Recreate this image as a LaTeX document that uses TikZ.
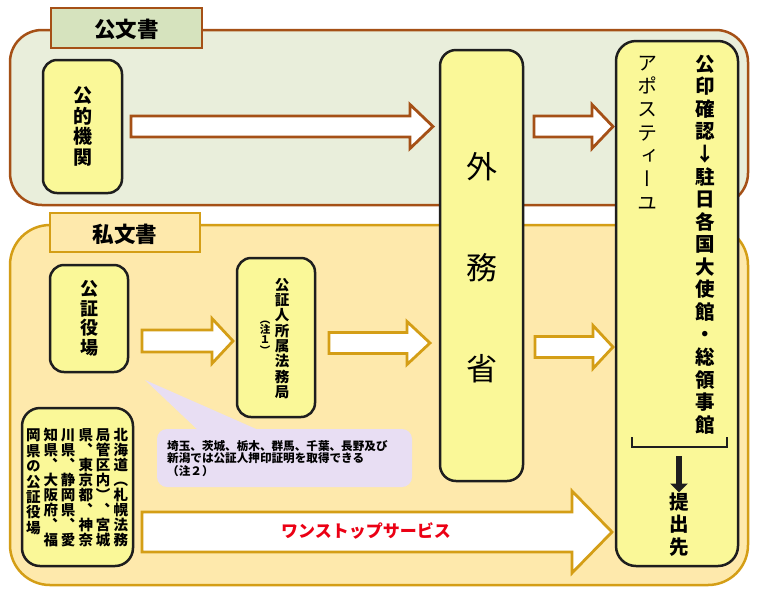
\documentclass[tikz,border=0pt]{standalone}
\usepackage{fontspec}
\usepackage{graphicx}
\usetikzlibrary{arrows.meta}
\newfontfamily\jp{Noto Sans CJK JP}
\newfontfamily\jpv{Noto Sans CJK JP}[RawFeature=+vert]
\definecolor{brownc}{RGB}{165,80,22}
\definecolor{goldc}{RGB}{212,158,22}
\definecolor{panelA}{RGB}{233,238,219}
\definecolor{labelA}{RGB}{214,227,190}
\definecolor{panelB}{RGB}{254,233,172}
\definecolor{boxfill}{RGB}{250,248,152}
\definecolor{boxline}{RGB}{30,30,30}
\definecolor{lav}{RGB}{232,222,243}
\definecolor{redtxt}{RGB}{235,0,20}
% vertical stacking of characters
\newcommand\VT[2]{\vtop{\baselineskip=#1\lineskip=0pt\lineskiplimit=-100pt\VTaux#2\relax}}
\def\VTaux#1{\ifx\relax#1\else\hbox to 1em{\hss#1\hss}\expandafter\VTaux\fi}
\newcommand\barrow[7]{% style, x0, xh, xt, yc, half shaft, half head
  \draw[#1] (#2,#5-#6) -- (#3,#5-#6) -- (#3,#5-#7) -- (#4,#5) -- (#3,#5+#7) -- (#3,#5+#6) -- (#2,#5+#6) -- cycle;}
\begin{document}
\begin{tikzpicture}[x=1pt,y=-1pt,
  panelAst/.style={draw=brownc, fill=panelA, line width=2.5pt, rounded corners=32pt},
  panelBst/.style={draw=goldc, fill=panelB, line width=2.5pt, rounded corners=40pt},
  labAst/.style={draw=brownc, fill=labelA, line width=2.5pt, inner sep=0pt},
  labBst/.style={draw=goldc, fill=panelB, line width=2.5pt, inner sep=0pt},
  box/.style={draw=boxline, fill=boxfill, line width=2.5pt, rounded corners=14pt, inner sep=0pt},
  vtxt/.style={inner sep=0pt, text=black},
  brarrow/.style={draw=brownc, fill=white, line width=2.8pt, line join=miter},
  goarrow/.style={draw=goldc, fill=white, line width=2.8pt, line join=miter}]
\useasboundingbox (0,0) rectangle (760,598);
\fill[white] (0,0) rectangle (760,598);

% panels
\draw[panelAst] (10,30) rectangle (748,205);
\draw[panelBst] (10,225) rectangle (748,585);
\node[labAst, minimum width=151pt, minimum height=40pt] (labA) at (126.5,28) {};
\node[vtxt] at (126.5,29.5) {\jp\bfseries\fontsize{21.5}{23}\selectfont 公文書};
\node[labBst, minimum width=150pt, minimum height=39pt] (labB) at (125,232.5) {};
\node[vtxt] at (125,234) {\jp\bfseries\fontsize{21.5}{23}\selectfont 私文書};

% block arrows
\barrow{brarrow}{131}{410}{433}{126.5}{10.5}{22}
\barrow{brarrow}{534}{592}{613}{126.5}{10.5}{22}
\barrow{goarrow}{142}{212}{233}{341}{11}{22.5}
\barrow{goarrow}{329}{407}{430}{343}{10.5}{21.5}
\barrow{goarrow}{535}{593}{613}{347}{10.5}{21.5}
\barrow{goarrow}{142}{572}{612}{532}{20}{41}
\node[vtxt, text=redtxt] (onestop) at (366,531) {\jp\bfseries\fontsize{17}{19}\selectfont ワンストップサービス};

% callout
\fill[lav] (145,380) -- (200,432) -- (263,432) -- cycle;
\fill[lav, rounded corners=10pt] (157,429) rectangle (412,487);
\node[vtxt, anchor=west, align=left, font={\jp\bfseries\fontsize{11.6}{12.5}\selectfont}] (note) at (167,458.5) {埼玉、茨城、栃木、群馬、千葉、長野及び\\新潟では公証人押印証明を取得できる\\（注２）};

% boxes
\node[box, minimum width=79pt, minimum height=133pt] (pub) at (82.5,126.5) {\jpv\bfseries\fontsize{19}{21}\selectfont\VT{20.5pt}{公的機関}};
\node[box, rounded corners=16pt, minimum width=83pt, minimum height=431pt] (mofa) at (481.5,265.5) {};
\node[vtxt] (mofaT) at (482,268) {\jpv\fontsize{31}{33}\selectfont\VT{101pt}{外務省}};
\node[box, minimum width=78pt, minimum height=107pt] (kosho) at (89,318.5) {\jpv\bfseries\fontsize{18}{20}\selectfont\VT{19.7pt}{公証役場}};
\node[box, minimum width=78pt, minimum height=159pt] (houmu) at (276,337.5) {};
\node[vtxt] (houmuT) at (282,338.5) {\jpv\bfseries\fontsize{14.5}{16}\selectfont\VT{15.3pt}{公証人所属法務局}};
\node[vtxt] (chu1) at (265,337.5) {\jpv\bfseries\fontsize{10.5}{11}\selectfont\VT{10.3pt}{（注１）}};
\node[box, rounded corners=18pt, minimum width=111pt, minimum height=158pt] (hok) at (77.5,487) {};
\node[vtxt] (hokT) at (77,488) {\jpv\bfseries\fontsize{14.5}{15}\selectfont
  \VT{15.4pt}{岡県の公証役場}\kern3pt\VT{15pt}{知県、大阪府、福}\kern3pt\VT{15pt}{川県、静岡県、愛}\kern3pt\VT{15pt}{県、東京都、神奈}\kern3pt\VT{15pt}{局管区内）、宮城}\kern3pt\VT{15pt}{北海道（札幌法務}};

\node[box, rounded corners=20pt, minimum width=122pt, minimum height=525pt] (apos) at (677,303.5) {};
\node[vtxt] (aposT) at (647,133) {\jpv\fontsize{20}{22}\selectfont\VT{23.3pt}{アポスティーユ}};
\node[vtxt] (consul) at (705,244.5) {\jpv\bfseries\fontsize{19.5}{22}\selectfont\VT{22.56pt}{公印確認↓駐日各国大使館・総領事館}};
\draw[line width=2.2pt, draw=boxline] (632,437) -- (632,447) -- (727,447) -- (727,437);
\coordinate (brk) at (679,456);
\node[vtxt] (dest) at (679,524.5) {\jpv\bfseries\fontsize{19.5}{22}\selectfont\VT{22.5pt}{提出先}};
\draw[line width=6pt, draw=boxline, -{Triangle[width=17pt,length=9pt]}] (brk) -- (dest.north);
\end{tikzpicture}
\end{document}
